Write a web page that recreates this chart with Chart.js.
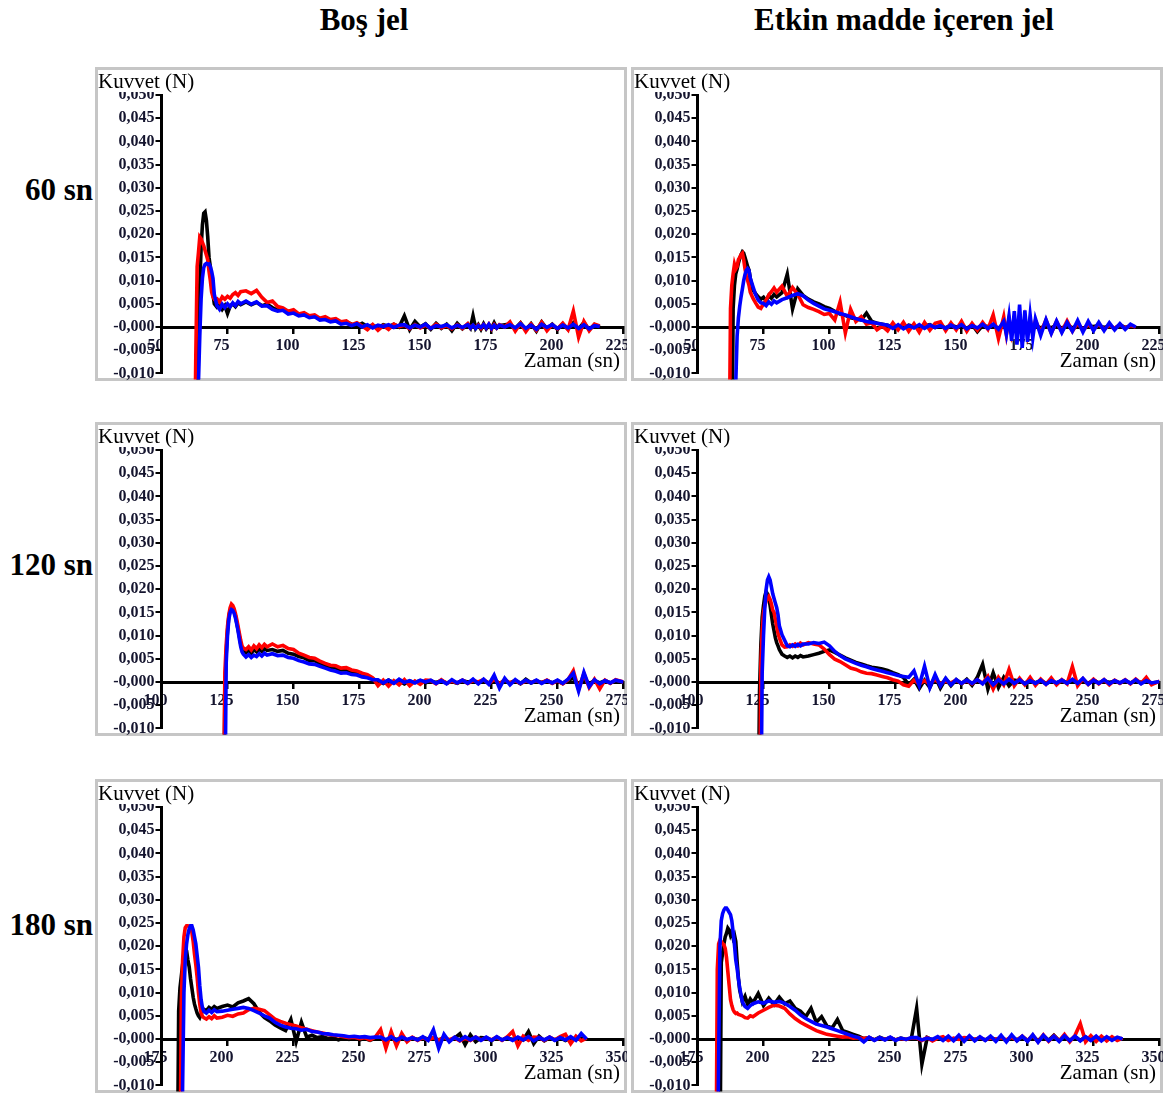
<!DOCTYPE html>
<html lang="tr">
<head>
<meta charset="utf-8">
<script src="https://cdn.jsdelivr.net/npm/chart.js@4.4.1/dist/chart.umd.min.js"></script>
<style>
  body { margin: 0; background: #fff; width: 1170px; height: 1095px; position: relative; overflow: hidden;
         font-family: 'Liberation Serif', 'Times New Roman', serif; color: #000; }
  .head { position: absolute; top: 0; font-weight: bold; font-size: 31px; line-height: 40px; white-space: nowrap; transform: translateX(-50%); }
  .row { position: absolute; left: 0; width: 93px; text-align: right; font-weight: bold; font-size: 31px; line-height: 40px; white-space: nowrap; }
  .panel { position: absolute; width: 532px; height: 314px; box-sizing: border-box; border: 3px solid #c6c6c6; }
  .panel canvas { position: absolute; left: -3px; top: -3px; }
  .ytitle { position: absolute; left: 0; top: 0; width: 112px; height: 22px; background: #fff; font-size: 21px; line-height: 22px; padding-left: 0; white-space: nowrap; }
  .xtitle { position: absolute; right: 4px; top: 278px; font-size: 21px; line-height: 24px; white-space: nowrap; }
</style>
</head>
<body>
<div class="head" style="left:364px">Boş jel</div>
<div class="head" style="left:904px">Etkin madde içeren jel</div>
<div class="row" style="top:170px">60 sn</div>
<div class="row" style="top:545px">120 sn</div>
<div class="row" style="top:905px">180 sn</div>

<script>
// force values in mN, time in s
const yTickLabels = ['-0,010', '-0,005', '-0,000', '0,005', '0,010', '0,015', '0,020', '0,025', '0,030', '0,035', '0,040', '0,045', '0,050'];
const xTicks60 = ['50', '75', '100', '125', '150', '175', '200', '225'];
const xTicks120 = ['100', '125', '150', '175', '200', '225', '250', '275'];
const xTicks180 = ['175', '200', '225', '250', '275', '300', '325', '350'];

const times60 = [
  62, 62.5, 63, 63.5, 64, 64.5, 65, 65.5, 66, 66.5, 67, 67.5, 68, 68.5, 69, 69.5, 70,
  71, 72, 73, 74, 75, 76, 77, 78, 79, 80,
  82, 84, 86, 88, 90, 92, 94, 96, 98, 100,
  102, 104, 106, 108, 110, 112, 114, 116, 118, 120,
  122, 124, 126, 128, 130, 132, 134, 136, 138, 140,
  142, 144, 146, 148, 150, 152, 154, 156, 158, 160,
  162, 164, 166, 167, 168, 169, 170, 171, 172, 173, 174, 175, 176, 177, 178, 180,
  182, 184, 186, 188, 190, 192, 194, 196, 198, 200,
  202, 204, 206, 208, 210, 212, 214, 216
];

const bos60Black = [
  null, null, null, -30, -4, 9, 17, 22, 24.5, 24.8, 23, 19.5, 15, 13, 9, 7, 5,
  4.3, 4.8, 3.8, 4.6, 2.9, 4.5, 5.0, 4.4, 5.2, 4.8,
  5.4, 4.8, 5.3, 4.6, 4.9, 4.2, 3.6, 3.9, 3.1, 3.3,
  2.6, 2.9, 2.2, 2.3, 1.7, 1.9, 1.4, 1.5, 0.9, 1.1,
  0.6, 0.2, 0.8, 0.1, 0.4, -0.2, 0.5, 0.1, 0.6, 0.0,
  2.4, -0.6, 1.2, 0.0, 0.7, -0.5, 0.8, -0.3, 0.6, -0.8,
  0.8, -0.4, 0.6, -0.2, 2.4, -0.3, 0.5, -0.5, 0.7, -0.4, 0.4, -0.3, 0.9, -0.2, 0.3, 0.5,
  0.6, -0.3, 0.9, -0.6, 0.7, -0.9, 1.1, -0.4, 0.6, -0.5,
  0.7, -0.5, 0.9, -0.4, 1.0, -0.6, 0.5, 0.0
];
const bos60Red = [
  null, -30, -6, 13, 16, 19.4, 19, 18.2, 17.5, 16.5, 15.5, 14.5, 12, 10, 7.5, 6.5, 6.0,
  6.1, 5.4, 6.5, 6.0, 6.6, 6.2, 7.0, 7.4, 6.8, 7.6,
  7.8, 7.2, 7.9, 6.4, 5.3, 5.6, 4.4, 4.1, 3.4, 3.7,
  2.8, 3.1, 2.4, 2.6, 1.9, 2.2, 1.6, 1.8, 1.1, 1.3,
  0.5, 0.9, 0.2, -0.6, 0.5, -0.7, 0.3, -0.5, 0.6, 0.1,
  0.4, -0.4, 0.5, -0.2, 0.4, -0.3, 0.6, -0.2, 0.3, -0.4,
  0.5, -0.3, 0.7, -0.2, 0.3, -0.1, 0.4, -0.3, 0.5, -0.2, 0.6, -0.4, 0.5, -0.2, 0.5, 0.0,
  1.1, -0.9, 0.8, -1.0, 0.6, -0.7, 1.0, -0.8, 0.5, -0.4,
  0.8, -0.6, 3.4, -2.2, 1.2, -0.8, 0.6, 0.2
];
const bos60Blue = [
  null, null, null, -30, -12, -2, 6, 10.5, 12.8, 13.5, 13.7, 13.5, 13.6, 13, 12, 10.5, 7,
  4.6, 3.8, 4.9, 4.2, 5.0, 4.4, 5.2, 4.6, 5.5, 5.0,
  5.6, 4.9, 5.4, 4.5, 4.6, 3.8, 3.4, 3.6, 2.8, 3.0,
  2.4, 2.6, 2.0, 2.2, 1.5, 1.6, 1.1, 1.3, 0.6, 0.8,
  0.3, 0.7, 0.0, 0.5, -0.2, 0.4, 0.1, 0.5, -0.1, 0.4,
  0.5, -0.2, 0.4, 0.0, 0.6, -0.3, 0.3, 0.1, 0.5, -0.2,
  0.4, -0.1, 0.5, -0.2, 0.4, -0.3, 0.3, -0.1, 0.5, -0.2, 0.6, -0.3, 0.4, -0.2, 0.4, 0.0,
  0.5, -0.2, 0.7, -0.3, 0.4, -0.5, 0.6, -0.1, 0.5, -0.3,
  0.4, -0.2, 0.6, -0.3, 0.5, -0.4, 0.3, 0.1
];

const etkin60Black = [
  null, null, -30, 4, 9, 11.5, 12.5, 13.8, 14.8, 15.6, 16.2, 15.9, 15, 14, 13, 12.3, 10.5,
  8.0, 7.2, 6.5, 6.0, 6.4, 5.6, 6.8, 6.2, 7.0, 6.5,
  7.4, 11.4, 3.9, 8.2, 6.8, 6.0, 5.4, 5.0, 4.4, 4.0,
  3.4, 2.8, 2.5, 2.0, 1.8, 1.5, 3.0, 1.2, 0.8, 0.6,
  0.4, 0.0, 0.3, -0.2, 0.4, 0.1, -0.3, 0.2, 0.5, -0.1,
  0.3, -0.2, 0.4, 0.0, 0.2, -0.3, 0.5, -1.0, 0.3, 0.1,
  0.4, -0.3, 0.6, -0.3, 0.4, -0.4, 0.5, -0.5, 0.4, -0.6, 0.4, -0.3, 0.5, -0.4, 0.3, -0.2,
  0.3, -0.2, 0.4, -0.3, 0.5, -0.2, 0.3, -0.4, 0.2, 0.1,
  0.3, -0.1, 0.2, -0.3, 0.4, -0.1, 0.2, 0.0
];
const etkin60Red = [
  -30, 4, 9, 11.5, 13.5, 12.5, 13, 14.5, 15, 15.6, 15.9, 14.5, 12.5, 11, 10, 9, 7.5,
  6.2, 5.2, 4.3, 4.0, 5.0, 5.8, 6.9, 7.6, 8.4, 7.5,
  8.8, 6.6, 8.5, 7.0, 4.8, 4.2, 3.8, 3.3, 2.7, 2.9,
  1.5, 5.4, -1.3, 3.8, 1.2, 2.2, 0.6, 0.9, -0.6, 0.2,
  -0.8, 0.9, -0.6, 1.0, -0.9, 0.7, -1.1, 1.0, -0.7, 0.8,
  1.1, -0.8, 0.9, -0.6, 1.2, -0.9, 0.8, -0.7, 1.0, -0.5,
  2.6, -2.5, 2.2, -1.6, 1.8, -1.4, 1.6, -1.3, 1.5, -1.1, 1.8, -1.5, 1.6, -1.2, 1.4, -1.2,
  1.5, -1.3, 1.2, -1.0, 1.3, -0.9, 0.8, -0.7, 0.6, -0.5,
  0.6, -0.5, 0.4, -0.3, 0.5, -0.2, 0.3, 0.0
];
const etkin60Blue = [
  null, null, null, null, -30, -12, -2, 2, 4.5, 6.5, 8.2, 10, 11.3, 12.2, 12.6, 12.2, 10.5,
  8.7, 7.0, 5.8, 5.2, 5.1, 4.6, 5.4, 4.9, 5.6, 5.2,
  5.9, 6.3, 6.8, 7.2, 6.7, 5.8, 5.1, 4.5, 3.9, 3.6,
  3.3, 2.9, 2.6, 2.2, 1.8, 1.5, 1.2, 1.0, 0.8, 0.6,
  0.4, -0.3, 0.5, -0.4, 0.3, -0.2, 0.5, -0.3, 0.4, -0.1,
  0.3, -0.3, 0.4, -0.2, 0.5, -0.4, 0.3, -0.2, 0.6, -0.3,
  0.6, -0.5, 1.2, -1.6, 2.4, -3.0, 3.4, -3.8, 4.8, -4.5, 3.6, -3.2, 2.6, -2.4, 1.8, -1.8,
  1.6, -1.4, 1.3, -1.2, 1.0, -0.9, 1.4, -1.1, 1.2, -0.8,
  1.0, -0.8, 0.9, -0.6, 0.7, -0.5, 0.6, 0.0
];

const times120 = [
  122.5, 123, 123.5, 124, 124.5, 125, 125.5, 126, 126.5, 127, 127.5, 128, 128.5, 129, 129.5, 130, 130.5,
  131, 132, 133, 134, 135, 136, 137, 138, 139, 140,
  142, 144, 146, 148, 150, 152, 154, 156, 158, 160,
  162, 164, 166, 168, 170, 172, 174, 176, 178, 180,
  182, 184, 186, 188, 190, 192, 194, 196, 198, 200,
  202, 204, 206, 208, 210, 212, 214, 216, 218, 220,
  222, 224, 226, 228, 230, 232, 234, 236, 238, 240,
  242, 244, 246, 248, 250, 252, 254, 256, 258, 260,
  262, 264, 266, 268, 270, 272, 275
];

const bos120Black = [
  null, null, -30, -3, 6, 11, 14, 15.5, 16, 15.8, 15.2, 14.3, 12.8, 11.3, 9.8, 8.2, 7.0,
  6.8, 6.3, 6.9, 6.2, 7.0, 6.5, 7.1, 6.6, 7.2, 6.8,
  7.0, 6.6, 6.8, 6.2, 6.0, 5.5, 5.2, 4.6, 4.6, 4.0,
  3.6, 3.2, 3.0, 2.6, 2.6, 2.1, 2.0, 1.5, 1.3, 0.7,
  0.2, -0.3, 0.4, -0.2, 0.3, -0.4, 0.2, -0.1, 0.3, -0.2,
  0.2, -0.1, 0.3, -0.2, 0.1, -0.3, 0.3, 0.0, 0.2, -0.2,
  0.3, -0.2, 0.4, -0.3, 0.2, -0.2, 0.3, -0.4, 0.6, -0.2,
  0.2, -0.1, 0.3, -0.2, 0.2, -0.3, 0.4, 0.8, -0.6, 0.9,
  -0.4, 0.3, -0.2, 0.3, -0.2, 0.2, 0.0
];
const bos120Red = [
  null, null, -30, 2, 8, 12, 14.5, 16, 16.8, 16.5, 15.8, 14.8, 13.5, 12, 10.5, 9, 7.8,
  7.3, 7.0, 7.6, 6.9, 7.8, 7.2, 8.0, 7.4, 8.1, 7.6,
  8.2, 7.6, 7.9, 7.2, 7.0, 6.2, 5.8, 5.3, 5.1, 4.5,
  4.0, 3.6, 3.5, 3.0, 3.1, 2.6, 2.4, 1.9, 1.6, 0.9,
  -0.8, 0.4, -0.9, 0.3, -0.6, 0.5, -0.8, 0.2, -0.5, 0.4,
  0.3, -0.4, 0.5, -0.3, 0.2, -0.2, 0.4, -0.3, 0.3, 0.0,
  0.5, -0.3, 0.6, -0.4, 0.5, -0.2, 0.3, -0.3, 0.2, -0.1,
  0.3, -0.2, 0.4, -0.3, 0.3, -0.4, 0.5, 2.4, -1.6, 1.8,
  -1.2, 0.6, -1.5, 0.4, -0.3, 0.5, 0.0
];
const bos120Blue = [
  null, null, null, -30, 4, 10, 13.5, 15, 15.6, 15.4, 14.8, 13.8, 12.5, 11.0, 9.2, 7.6, 6.5,
  6.0, 5.4, 5.9, 5.3, 5.8, 5.5, 6.1, 5.6, 6.2, 5.8,
  6.1, 5.7, 5.8, 5.3, 5.1, 4.6, 4.3, 3.9, 3.8, 3.4,
  3.0, 2.6, 2.3, 1.9, 2.0, 1.6, 1.5, 1.1, 0.9, 0.5,
  0.5, -0.2, 0.4, -0.3, 0.6, -0.1, 0.3, -0.2, 0.4, 0.0,
  0.4, -0.3, 0.3, -0.4, 0.5, -0.2, 0.4, -0.3, 0.6, -0.4,
  0.6, -0.5, 1.5, -1.3, 0.8, -0.6, 0.5, -0.3, 0.4, -0.2,
  0.4, -0.3, 0.3, -0.2, 0.4, -0.3, 0.6, 1.9, -2.0, 2.1,
  -1.0, 0.5, -0.4, 0.3, -0.2, 0.4, 0.0
];

const etkin120Black = [
  null, -30, -2, 8, 14, 16.5, 18.5, 19.5, 19, 18, 16.5, 14.5, 12.5, 11, 9.5, 8.5, 7.8,
  7.0, 6.0, 5.6, 5.3, 5.6, 5.2, 5.6, 5.3, 5.7, 5.4,
  5.6, 5.9, 6.2, 6.6, 6.9, 6.4, 5.8, 5.2, 4.7, 4.2,
  3.9, 3.5, 3.2, 3.0, 2.8, 2.5, 2.0, 1.6, 1.0, -0.6,
  0.6, -1.4, 0.4, -1.2, 1.2, -1.3, 0.7, -0.8, 0.5, -0.4,
  0.6, -0.7, 1.0, 3.8, -1.5, 2.0, -1.2, 1.0, -0.8, 0.4,
  0.2, -0.3, 0.4, -0.2, 0.3, -0.3, 0.2, -0.2, 0.3, -0.1,
  0.3, -0.2, 0.2, -0.3, 0.4, -0.2, 0.3, -0.1, 0.2, -0.2,
  0.2, -0.2, 0.3, -0.1, 0.2, -0.2, 0.0
];
const etkin120Red = [
  null, null, -30, 4, 11, 15, 16.5, 17.5, 18, 18.4, 17.8, 16.8, 15.5, 15, 13.5, 12, 10.5,
  9.5, 8.0, 7.5, 7.6, 8.0, 7.7, 8.2, 7.8, 8.4, 8.0,
  8.5, 8.2, 8.0, 7.1, 5.9, 4.9, 4.4, 3.7, 3.0, 2.7,
  2.2, 1.9, 1.8, 1.5, 1.2, 0.9, 0.5, 0.2, -0.6, -0.9,
  0.4, -0.5, 0.3, -0.4, 0.5, -0.3, 0.2, -0.2, 0.4, -0.3,
  0.3, -0.4, 0.5, -0.3, 1.2, -1.5, 1.0, -0.6, 2.7, -0.8,
  0.8, -0.6, 1.0, -0.7, 0.6, -0.5, 0.9, -0.6, 0.5, -0.4,
  3.3, -0.8, 0.7, -0.5, 0.6, -0.4, 0.5, -0.6, 0.4, -0.3,
  0.5, -0.4, 0.6, -0.3, 1.0, -0.6, 0.2
];
const etkin120Blue = [
  null, null, null, -30, 2, 10, 16, 20, 22, 22.7, 22, 20.5, 19, 18, 17, 16, 14.5,
  12.1, 10.2, 9.0, 7.8, 7.6, 8.0, 7.7, 8.1, 7.8, 8.2,
  8.2, 8.5, 8.3, 8.6, 7.8, 6.6, 5.7, 5.0, 4.5, 4.0,
  3.6, 3.3, 2.9, 2.6, 2.3, 2.0, 1.7, 1.4, 1.2, 1.0,
  2.4, -0.8, 3.4, -1.2, 1.6, -0.9, 0.8, -0.6, 0.5, -0.3,
  0.4, -0.3, 0.5, -0.4, 0.8, -0.6, 0.5, -0.4, 0.6, -0.3,
  0.5, -0.4, 0.3, -0.3, 0.4, -0.5, 0.3, -0.2, 0.4, -0.3,
  0.6, -0.3, 0.8, -0.5, 0.4, -0.3, 0.5, -0.4, 0.3, -0.2,
  0.4, -0.3, 0.5, -0.4, 0.3, -0.2, 0.1
];

const times180 = [
  180.5, 181, 181.5, 182, 182.5, 183, 183.5, 184, 184.5, 185, 185.5, 186, 186.5, 187, 187.5, 188, 188.5,
  189, 189.5, 190, 190.5, 191, 192, 193, 194, 195, 196,
  198, 200, 202, 204, 206, 208, 210, 212, 214, 216,
  218, 220, 222, 224, 226, 228, 230, 232, 234, 236,
  238, 240, 242, 244, 246, 248, 250, 252, 254, 256,
  258, 260, 262, 264, 266, 268, 270, 272, 274, 276,
  278, 280, 282, 284, 286, 288, 290, 292, 294, 296,
  298, 300, 302, 304, 306, 308, 310, 312, 314, 316,
  318, 320, 322, 324, 326, 328, 330, 332, 334, 336
];

const bos180Black = [
  null, -30, 6, 11, 13.5, 16, 18.5, 19.5, 19, 17, 15.5, 13, 11, 9, 7.5, 6.5, 5.6,
  5.0, 4.6, 5.3, 6.0, 6.4, 6.1, 6.8, 6.4, 7.0, 6.6,
  7.0, 7.3, 6.9, 7.8, 8.2, 8.7, 7.6, 5.8, 4.6, 3.9,
  3.0, 2.4, 1.8, 4.2, -0.6, 3.6, 0.4, 0.8, 0.3, 0.5,
  0.1, 0.3, -0.2, 0.2, -0.1, 0.3, -0.2, 0.1, -0.3, 0.2,
  0.2, -0.2, 0.3, -0.1, 0.2, -0.3, 0.2, -0.1, 0.3, 0.0,
  0.3, -0.2, 0.2, -0.3, 0.2, 1.1, -1.2, 0.9, -0.6, 0.3,
  0.2, -0.3, 0.3, -0.2, 0.2, -0.1, 0.3, -0.2, 1.6, -1.0,
  0.6, -0.4, 0.3, -0.2, 0.3, -0.3, 0.2, -0.1, 0.2, 0.0
];
const bos180Red = [
  null, null, null, -30, 8, 17, 22, 24, 24.4, 24.4, 24.3, 24, 23, 21, 18.3, 16, 13.3,
  10, 7.5, 5.6, 4.9, 4.6, 4.3, 4.8, 4.4, 5.0, 4.5,
  4.7, 5.1, 4.9, 5.4, 5.6, 6.3, 6.6, 6.4, 6.1, 5.2,
  4.3, 3.8, 3.4, 3.1, 2.8, 2.4, 2.1, 1.8, 1.5, 1.3,
  1.0, 0.8, 0.7, 0.5, 0.3, 0.4, 0.1, 0.3, -0.2, 0.4,
  2.0, -2.0, 1.6, -1.5, 1.2, -0.6, 0.4, -0.3, 0.3, -0.2,
  0.3, -0.3, 0.4, -0.2, 0.3, -0.4, 0.2, -0.3, 0.4, -0.2,
  0.3, -0.2, 0.4, -0.3, 0.5, 1.6, -1.5, 0.6, -0.3, 0.4,
  0.3, -0.3, 0.4, -0.2, 0.5, 1.0, -1.0, 0.6, -0.4, 0.2
];
const bos180Blue = [
  null, null, null, null, -30, -10, 10, 17, 20.5, 22.5, 23.8, 24.4, 24.4, 23.5, 22, 20.5, 18,
  15.5, 11.5, 8.5, 6.8, 6.0, 5.6, 6.2, 5.7, 6.3, 5.9,
  6.0, 6.2, 6.4, 6.6, 6.8, 6.6, 6.1, 5.6, 5.0, 4.5,
  3.6, 3.0, 2.6, 2.3, 2.2, 1.9, 2.1, 1.6, 1.5, 1.2,
  1.1, 0.9, 0.8, 0.7, 0.5, 0.6, 0.4, 0.5, 0.3, 0.4,
  0.4, -0.2, 0.5, -0.3, 0.4, -0.1, 0.3, -0.2, 0.5, -0.3,
  2.0, -2.0, 1.0, -0.6, 0.4, -0.3, 0.5, -0.2, 0.4, -0.3,
  0.4, -0.3, 0.5, -0.2, 0.3, -0.3, 0.4, -0.2, 0.5, -0.4,
  0.3, -0.2, 0.4, -0.3, 0.3, -0.2, 0.5, -0.3, 1.2, 0.0
];

const etkin180Black = [
  null, null, null, null, null, null, -30, 16.5, 18.5, 20.5, 22, 22.8, 23.9, 23.5, 22.4, 23.1, 21.8,
  22.4, 21, 16.7, 13.1, 10.5, 8.0, 9.2, 7.4, 8.6, 7.8,
  9.8, 7.2, 8.8, 7.4, 9.0, 7.6, 8.2, 6.6, 6.0, 4.8,
  6.6, 3.6, 4.8, 2.8, 2.4, 4.2, 1.8, 1.4, 1.0, 0.6,
  0.1, 0.3, -0.2, 0.4, -0.1, 0.3, -0.2, 0.2, -0.1, 0.1,
  6.6, -5.4, 0.3, -0.2, 0.2, -0.1, 0.3, -0.2, 0.2, 0.0,
  0.2, -0.1, 0.2, -0.2, 0.3, -0.1, 0.2, -0.3, 0.4, -0.2,
  0.5, -0.3, 0.6, -0.4, 0.7, -0.3, 0.8, -0.4, 0.6, -0.3,
  0.5, -0.3, 0.4, -0.2, 0.3, -0.2, 0.3, -0.1, 0.2, 0.0
];
const etkin180Red = [
  null, null, null, -30, 15, 20.5, 21.3, 21, 20.6, 20.3, 19.5, 17.5, 14.5, 11.5, 8.5, 7.2, 6.3,
  5.8, 5.5, 5.6, 5.3, 5.2, 5.0, 4.6, 4.5, 5.0, 4.8,
  5.6, 6.2, 6.8, 7.3, 7.1, 6.6, 5.4, 4.4, 3.6, 3.0,
  2.4, 1.8, 1.4, 1.0, 0.8, 0.6, 0.4, 0.5, 0.2, 0.3,
  0.1, 0.3, -0.2, 0.2, -0.1, 0.3, -0.2, 0.1, -0.1, 0.2,
  0.2, -0.3, 0.3, -0.4, 0.2, 0.5, -0.3, 0.2, -0.1, 0.3,
  0.2, -0.1, 0.3, -0.2, 0.2, -0.1, 0.3, -0.2, 0.4, -0.3,
  0.6, -0.4, 0.8, -0.6, 0.9, -0.5, 0.7, -0.4, 1.0, -0.6,
  0.8, 3.3, -0.6, 0.7, -0.5, 0.6, -0.4, 0.5, -0.3, 0.2
];
const etkin180Blue = [
  null, null, null, null, -30, -5, 20, 25.5, 27, 27.8, 28.2, 28.2, 27.8, 27.3, 26.8, 25.5, 23,
  20.3, 17, 15.2, 13, 10.9, 8.0, 7.0, 6.6, 7.2, 7.6,
  8.0, 7.7, 8.2, 7.9, 8.1, 7.7, 7.0, 6.2, 5.2, 4.4,
  3.8, 3.2, 2.9, 2.6, 2.2, 1.8, 1.4, 1.0, 0.6, 0.3,
  -0.6, 0.4, -0.3, 0.3, -0.2, 0.4, -0.3, 0.2, -0.1, 0.3,
  0.3, -0.2, 0.2, -0.1, 0.5, -0.3, 0.6, -0.4, 0.8, -0.5,
  0.7, -0.4, 0.5, -0.3, 0.6, -0.5, 0.8, -0.6, 0.9, -0.4,
  0.6, -0.5, 0.9, -0.7, 0.8, -0.4, 0.6, -0.5, 0.7, -0.4,
  0.6, -0.4, 0.5, -0.3, 0.6, -0.4, 0.5, -0.3, 0.4, 0.0
];

const panels = [
  { left: 95,  top: 67,  times: times60,  xMin: 50,  xMax: 225, xLabels: xTicks60,  black: bos60Black,    red: bos60Red,    blue: bos60Blue },
  { left: 631, top: 67,  times: times60,  xMin: 50,  xMax: 225, xLabels: xTicks60,  black: etkin60Black,  red: etkin60Red,  blue: etkin60Blue },
  { left: 95,  top: 422, times: times120, xMin: 100, xMax: 275, xLabels: xTicks120, black: bos120Black,   red: bos120Red,   blue: bos120Blue },
  { left: 631, top: 422, times: times120, xMin: 100, xMax: 275, xLabels: xTicks120, black: etkin120Black, red: etkin120Red, blue: etkin120Blue },
  { left: 95,  top: 779, times: times180, xMin: 175, xMax: 350, xLabels: xTicks180, black: bos180Black,   red: bos180Red,   blue: bos180Blue },
  { left: 631, top: 779, times: times180, xMin: 175, xMax: 350, xLabels: xTicks180, black: etkin180Black, red: etkin180Red, blue: etkin180Blue }
];

const tickFont = { family: "'Liberation Serif', 'Times New Roman', serif", size: 16, weight: 'bold' };
const tickColor = '#14142e';

function buildPanel(p) {
  const box = document.createElement('div');
  box.className = 'panel';
  box.style.left = p.left + 'px';
  box.style.top = p.top + 'px';
  const canvas = document.createElement('canvas');
  canvas.width = 532;
  canvas.height = 314;
  box.appendChild(canvas);
  const yTitle = document.createElement('div');
  yTitle.className = 'ytitle';
  yTitle.textContent = 'Kuvvet (N)';
  box.appendChild(yTitle);
  const xTitle = document.createElement('div');
  xTitle.className = 'xtitle';
  xTitle.textContent = 'Zaman (sn)';
  box.appendChild(xTitle);
  document.body.appendChild(box);

  const trace = (vals, color) => ({
    data: p.times.map((t, i) => ({ x: t, y: vals[i] === null ? null : vals[i] / 1000 })),
    borderColor: color,
    borderWidth: 3.6,
    pointRadius: 0,
    tension: 0,
    clip: { left: 0, top: 0, right: 0, bottom: 6 }
  });

  new Chart(canvas, {
    type: 'line',
    data: {
      // first dataset is painted last, so blue sits on top
      datasets: [trace(p.blue, '#0000ff'), trace(p.red, '#ff0000'), trace(p.black, '#000000')]
    },
    options: {
      responsive: false,
      animation: false,
      events: [],
      layout: { padding: { left: 0, top: 28, right: 3.5, bottom: 7.6 } },
      plugins: { legend: { display: false }, tooltip: { enabled: false } },
      scales: {
        x: {
          type: 'linear',
          position: { y: 0 },
          min: p.xMin,
          max: p.xMax,
          ticks: {
            stepSize: 25, autoSkip: false, maxRotation: 0, labelOffset: -6, padding: 4,
            color: tickColor, font: tickFont,
            callback: (v, i) => p.xLabels[i]
          },
          grid: { drawOnChartArea: false, tickLength: 5, color: '#000', lineWidth: 2.5 },
          border: { color: '#000', width: 3 },
          afterFit: s => { s.height = 0; s.paddingLeft = 0; s.paddingRight = 0; }
        },
        y: {
          type: 'linear',
          min: -0.01,
          max: 0.05,
          ticks: {
            stepSize: 0.005, autoSkip: false, padding: 1,
            color: tickColor, font: tickFont,
            callback: (v, i) => yTickLabels[i]
          },
          grid: { drawOnChartArea: false, tickLength: 6, color: '#000', lineWidth: 2 },
          border: { color: '#000', width: 3 },
          afterFit: s => { s.width = 66.5; s.paddingTop = 0; s.paddingBottom = 0; }
        }
      }
    }
  });
}

panels.forEach(buildPanel);
</script>
</body>
</html>
